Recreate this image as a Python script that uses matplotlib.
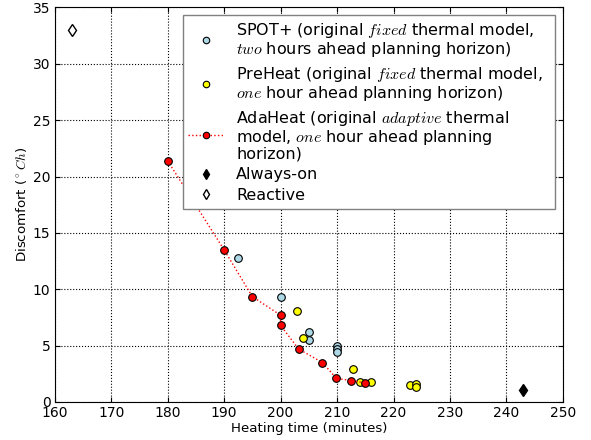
import matplotlib
matplotlib.use("Agg")
import matplotlib.pyplot as plt

plt.rcParams['mathtext.fontset'] = 'cm'
plt.rcParams['font.family'] = ['DejaVu Sans']
plt.rcParams['xtick.direction'] = 'in'
plt.rcParams['ytick.direction'] = 'in'
plt.rcParams['xtick.top'] = True
plt.rcParams['ytick.right'] = True

spot_x = [192.4, 200, 205, 205, 210, 210, 210]
spot_y = [12.8, 9.3, 6.2, 5.5, 5.0, 4.7, 4.4]

pre_x = [202.9, 203.9, 212.9, 214.0, 216.0, 222.9, 224.0, 224.0]
pre_y = [8.05, 5.7, 2.9, 1.8, 1.8, 1.5, 1.6, 1.3]

ada_x = [180, 190, 195, 200, 200, 203.2, 207.4, 209.9, 212.4, 215.0]
ada_y = [21.4, 13.5, 9.35, 7.7, 6.8, 4.7, 3.5, 2.1, 1.9, 1.7]

always_x = [243]
always_y = [1.1]

reactive_x = [163]
reactive_y = [33]

labels = [
    "SPOT+ (original $fixed$ thermal model,\n$two$ hours ahead planning horizon)",
    "PreHeat (original $fixed$ thermal model,\u00a0\u00a0\n$one$ hour ahead planning horizon)",
    "AdaHeat (original $adaptive$ thermal\nmodel, $one$ hour ahead planning\nhorizon)",
    "Always-on",
    "Reactive",
]

fig = plt.figure(figsize=(5.91, 4.4), dpi=100)
ax = fig.add_axes([0.0925, 0.0864, 0.86, 0.8966])

ax.plot(spot_x, spot_y, 'o', color='lightblue', mec='black', ms=5.5, mew=0.8, label=labels[0], zorder=3)
ax.plot(pre_x, pre_y, 'o', color='yellow', mec='black', ms=5.5, mew=0.8, label=labels[1], zorder=3)
ax.plot(ada_x, ada_y, 'o:', color='red', mec='black', ms=5.5, mew=0.8, lw=1, label=labels[2], zorder=3)
ax.plot(always_x, always_y, 'd', color='black', mec='black', ms=6, label=labels[3], zorder=3)
ax.plot(reactive_x, reactive_y, 'd', color='white', mec='black', ms=6, mew=1, label=labels[4], zorder=3)

ax.set_xlim(160, 250)
ax.set_ylim(0, 35)
ax.set_xticks(range(160, 251, 10))
ax.set_yticks(range(0, 36, 5))
ax.grid(True, linestyle=':', color='black', linewidth=0.8)
ax.tick_params(labelsize=10, pad=3)
ax.set_xlabel("Heating time (minutes)", fontsize=9.6, labelpad=1)
ax.set_ylabel(r"Discomfort ($^\circ Ch$)", fontsize=9.6, labelpad=2)

leg = ax.legend(loc='upper right', numpoints=1, fontsize=11.5, fancybox=False,
                framealpha=1, edgecolor='gray', handlelength=2.2,
                labelspacing=0.36, borderpad=0.35, bbox_to_anchor=(1.0, 1.0),
                borderaxespad=0.5, markerscale=0.85)
leg.get_frame().set_linewidth(1)
for t in leg.get_texts():
    t.set_linespacing(1.0)

fig.savefig("out.png", dpi=100)
